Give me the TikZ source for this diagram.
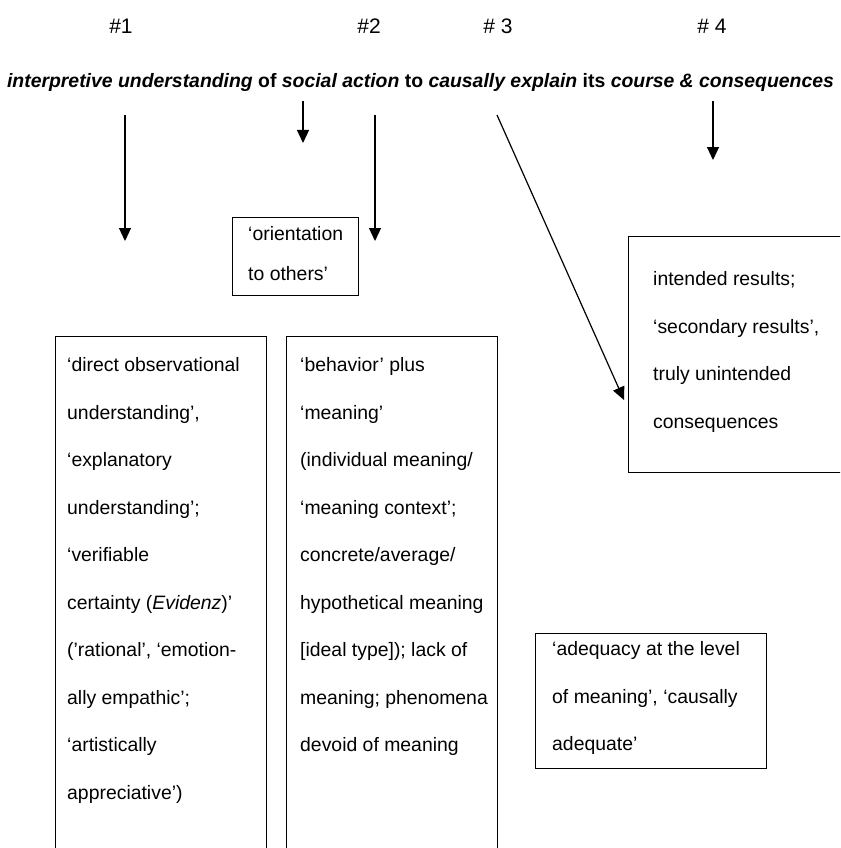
\documentclass[tikz,border=0pt]{standalone}
\usepackage{fontspec}
\setmainfont{Liberation Sans}
\usetikzlibrary{arrows.meta,positioning}
\tikzset{arrowdown/.style={-{Triangle[length=13pt,width=12pt]},line width=1.2pt},box/.style={rectangle,draw=black,line width=1.3pt,inner sep=0pt,anchor=north west},boxtext/.style={inner sep=0pt,align=left,anchor=north west,font=\fontsize{19.4}{47.5}\selectfont},heading/.style={font=\fontsize{21}{24}\selectfont}}

\begin{document}
\begin{tikzpicture}[x=1pt,y=-1pt]
\fill[white] (0,0) rectangle (840,848);
\clip (0,0) rectangle (840,848);

%headings
\node[heading] (h1) at (121,26) {\#1};
\node[heading] (h2) at (369,26) {\#2};
\node[heading] (h3) at (498,26) {\# 3};
\node[heading] (h4) at (712,26) {\# 4};

%sentence
\node (sent) at (420.5,82) [font=\fontsize{19.4}{24}\selectfont\bfseries] {\itshape interpretive understanding \upshape of \itshape social action \upshape to \itshape causally explain \upshape its \itshape course \& consequences};

%boxes
\node (obox) at (232,217) [box,minimum width=126pt,minimum height=78pt]{};
\node (lbox) at (55,336) [box,minimum width=211pt,minimum height=600pt]{};
\node (mbox) at (286,336) [box,minimum width=211pt,minimum height=600pt]{};
\node (ibox) at (628,236) [box,minimum width=230pt,minimum height=236pt]{};
\node (abox) at (535,633) [box,minimum width=231pt,minimum height=135pt]{};

%texts
\node (otext) [boxtext,font=\fontsize{19.4}{40}\selectfont,below right=9.6pt and 16pt of obox.north west] {‘orientation\\to others’};
\node (ltext) [boxtext,below right=21.6pt and 12pt of lbox.north west] {‘direct observational\\understanding’,\\‘explanatory\\understanding’;\\‘verifiable\\certainty (\textit{Evidenz})’\\(’rational’, ‘emotion-\\ally empathic’;\\‘artistically\\appreciative’)};
\node (mtext) [boxtext,below right=21.6pt and 14pt of mbox.north west] {‘behavior’ plus\\‘meaning’\\(individual meaning/\\‘meaning context’;\\concrete/average/\\hypothetical meaning\\{[ideal type]}); lack of\\meaning; phenomena\\devoid of meaning};
\node (itext) [boxtext,below right=35.6pt and 25pt of ibox.north west] {intended results;\\‘secondary results’,\\truly unintended\\consequences};
\node (atext) [boxtext,below right=8.6pt and 17pt of abox.north west] {‘adequacy at the level\\of meaning’, ‘causally\\adequate’};

%arrows
\coordinate (a1s) at (125,115);
\coordinate (a1e) at (125,241);
\coordinate (a2s) at (303,101);
\coordinate (a2e) at (303,143);
\coordinate (a3s) at (375,115);
\coordinate (a3e) at (375,241);
\coordinate (a4s) at (497,115);
\coordinate (a4e) at ([xshift=-4pt]ibox.west |- 0,400);
\coordinate (a5s) at (713,101);
\coordinate (a5e) at (713,160);
\draw[arrowdown] (a1s) -- (a1e);
\draw[arrowdown] (a2s) -- (a2e);
\draw[arrowdown] (a3s) -- (a3e);
\draw[arrowdown] (a4s) -- (a4e);
\draw[arrowdown] (a5s) -- (a5e);

\end{tikzpicture}
\end{document}
